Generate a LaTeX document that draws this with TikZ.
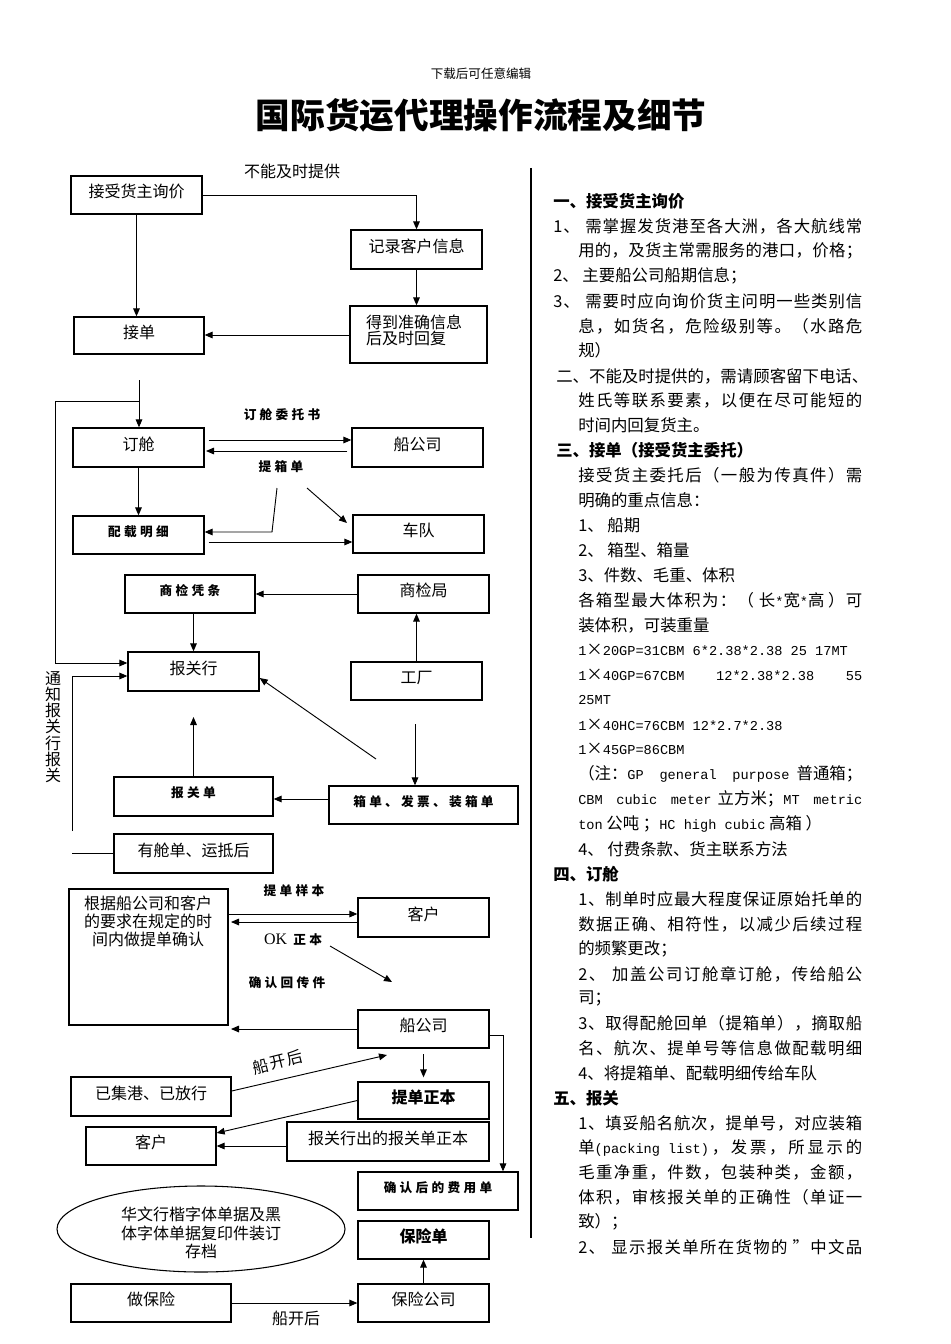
\documentclass[tikz,border=0pt]{standalone}
\usepackage{fontspec}
\setmainfont{Noto Sans CJK SC}
\newfontfamily\monof[Scale=0.83]{Liberation Mono}
\newfontfamily\serf{Liberation Serif}
\usetikzlibrary{shapes.geometric,arrows.meta}
\newcommand\mm[1]{{\monof #1}}
\makeatletter
\def\sp@end{\sp@end}
\newcommand\spreadtext[1]{\sp@loop#1\sp@end}
\def\sp@loop#1{\ifx#1\sp@end\else#1\hskip 0pt plus 1fil\relax\expandafter\sp@loop\fi}
\makeatother
\newcommand\gap{\hskip 0pt plus 1fil\relax}
\tikzset{
 box/.style={draw, line width=1pt, inner sep=0pt},
 arr/.style={line width=0.7pt, -{Triangle[length=6pt,width=5pt]}},
 ln/.style={line width=0.7pt},
 txt/.style={font=\fontsize{12}{14}\selectfont, inner sep=0pt},
 cal/.style={font=\fontsize{9.5}{11}\selectfont\bfseries\addfontfeature{LetterSpace=26}, inner sep=0pt},
 bld/.style={font=\fontsize{12}{14}\selectfont\bfseries, inner sep=0pt},
 rt/.style={font=\fontsize{12.3}{14}\selectfont, inner sep=0pt, anchor=west},
 rb/.style={font=\fontsize{12.3}{14}\selectfont\bfseries, inner sep=0pt, anchor=west},
}
\newcommand\bx[7][txt]{%
 \node[box,minimum width={(#5-#3)*0.75pt},minimum height={(#6-#4)*0.75pt}] (#2) at ({(#3+#5)/2},{(#4+#6)/2}) {};
 \node[#1] (#2-t) at ([yshift=2.5pt]#2.center) {#7};}
\newcommand\rl[4][rt]{\node[#1] (#2) at (#3) {#4};}
% justified line, spread between every character
\newcommand\rj[4][213pt]{\node[rt] (#2) at (#3) {\makebox[#1][s]{\spreadtext{#4}\unskip}};}
% justified line, content given with its own glue
\newcommand\rjx[4][213pt]{\node[rt] (#2) at (#3) {\makebox[#1][s]{#4}};}
\begin{document}
\begin{tikzpicture}[x=0.75pt,y=-0.75pt]
\fill[white] (0,0) rectangle (950,1344);
\useasboundingbox (0,0) rectangle (950,1344);

% header
\node[inner sep=0, font=\fontsize{9.4}{11}\selectfont] (hd) at (481,74) {下载后可任意编辑};
\node[inner sep=0, font=\fontsize{26}{30}\selectfont\bfseries] (title) at (481,115) {国际货运代理操作流程及细节};
\draw[line width=0.8pt] (531,168) coordinate (dv1) -- (531,1238) coordinate (dv2);

% ---------- flow chart ----------
\bx{ask}{71}{176}{202}{214}{接受货主询价}
\bx{rec}{351}{230}{482}{269}{记录客户信息}
\bx{jd}{74}{317}{204}{354}{接单}
\node[box,minimum width={137*0.75pt},minimum height={57*0.75pt}] (get) at (418.5,334.5) {};
\node[txt,align=left,font=\fontsize{12}{12.2}\selectfont] (get-t) at (414,330) {得到准确信息\\后及时回复};
\node[txt] (lb1) at (292,171) {不能及时提供};
\draw[arr] (ask.east) -| (rec.north);
\draw[arr] (ask.south) -- (ask.south |- jd.north);
\draw[arr] (rec.south) -- (rec.south |- get.north);
\draw[arr] (get.west |- 0,335) -- (jd.east |- 0,335);

% booking
\bx{dc}{73}{428}{204}{467}{订舱}
\bx{sc1}{352}{428}{483}{467}{船公司}
\bx[cal]{pz}{73}{516}{204}{554}{配载明细}
\bx{cd}{353}{515}{484}{553}{车队}
\node[cal] (lb2) at (282,415) {订舱委托书};
\node[cal] (lb3) at (281,467) {提箱单};
\coordinate (c1) at (139,380);
\coordinate (c2) at (139,401);
\coordinate (L1) at (55,401);
\draw[arr] (c1) -- (c1 |- dc.north);
\draw[ln] (c2) -- (L1);
\draw[arr,shorten <=3pt] (dc.east |- 0,440) -- (sc1.west |- 0,440);
\draw[arr,shorten <=3pt,shorten >=1pt] (sc1.west |- 0,451) -- (dc.east |- 0,451);
\draw[arr] (dc.south) -- (pz.north);
\coordinate (t1) at (277,488);
\draw[arr] (t1) -- (272,532) -- (pz.east |- 0,532);
\coordinate (t2) at (307,488);
\draw[arr] (t2) -- (347,523);
\draw[arr,shorten <=3pt] (pz.east |- 0,542) -- (cd.west |- 0,542);

% inspection / customs
\bx[cal]{sjpt}{125}{575}{255}{613}{商检凭条}
\bx{sjj}{358}{575}{489}{613}{商检局}
\bx{bgh}{128}{652}{259}{691}{报关行}
\bx{gc}{351}{662}{482}{700}{工厂}
\bx[cal]{bgd}{114}{777}{273}{816}{报关单}
\bx[cal]{xd}{329}{786}{518}{824}{箱单、发票、装箱单}
\bx{ycd}{114}{834}{273}{873}{有舱单、运抵后}
\draw[arr] (sjj.west) -- (sjj.west -| sjpt.east);
\draw[arr] (bgh.north |- sjpt.south) -- (bgh.north);
\draw[arr] (gc.north) -- (gc.north |- sjj.south);
\draw[arr] (L1) -- (55,663) -- (bgh.west |- 0,663);
\coordinate (t3) at (376,759);
\draw[arr] (t3) -- (bgh.east |- 0,678);
\coordinate (t4) at (415,724);
\draw[arr] (t4) -- (t4 |- xd.north);
\draw[arr] (xd.west |- 0,799) -- (bgd.east |- 0,799);
\coordinate (t5) at (193.5,717);
\draw[arr] (bgd.north) -- (t5);
\coordinate (t6) at (72,853.5);
\draw[ln] (ycd.west) -- (t6);
\coordinate (t7) at (72,831);
\draw[arr] (t7) -- (72,676) -- (bgh.west |- 0,676);
\node[txt,align=center,font=\fontsize{12}{12.2}\selectfont] (tz) at (53,727) {通\\知\\报\\关\\行\\报\\关};

% bill of lading
\node[box,minimum width={159*0.75pt},minimum height={136*0.75pt}] (qr) at (148.5,957) {};
\node[txt,align=center,font=\fontsize{12}{13.5}\selectfont] (qr-t) at (148,921) {根据船公司和客户\\的要求在规定的时\\间内做提单确认};
\bx{kh1}{358}{898}{489}{937}{客户}
\bx{sc2}{358}{1010}{489}{1048}{船公司}
\bx[bld]{tdz}{358}{1082}{489}{1119}{提单正本}
\bx{yjg}{71}{1077}{231}{1116}{已集港、已放行}
\node[cal] (lb4) at (294,891) {提单样本};
\node[cal] (lb5) at (293,940) {{\fontsize{12}{14}\selectfont\serf\mdseries OK} 正本};
\node[cal] (lb6) at (287,983) {确认回传件};
\draw[arr] (qr.east |- 0,914) -- (kh1.west |- 0,914);
\draw[arr] (kh1.west |- 0,922) -- (231,922);
\coordinate (t8) at (330,946);
\draw[arr] (t8) -- (392,982);
\coordinate (t9) at (231,1029);
\draw[arr] (sc2.west) -- (t9);
\draw[arr,shorten <=4pt,shorten >=3pt] (sc2.south) -- (tdz.north);
\coordinate (t10) at (387,1055);
\draw[arr] (yjg.east |- 0,1091) -- (t10);
\node[txt,rotate=14,font=\fontsize{12}{14}\selectfont\addfontfeature{LetterSpace=8}] (lb7) at (278,1062) {船开后};

% final documents
\bx{kh2}{86}{1127}{216}{1165}{客户}
\bx{bgzb}{287}{1122}{489}{1161}{报关行出的报关单正本}
\bx[cal]{fy}{358}{1172}{518}{1210}{确认后的费用单}
\bx[bld]{bxd}{358}{1221}{489}{1259}{保险单}
\bx{zbx}{71}{1284}{231}{1322}{做保险}
\bx{bxgs}{358}{1284}{489}{1322}{保险公司}
\draw[arr] (sc2.east |- 0,1035) -- (503,1035) -- (503,1035 |- fy.north);
\draw[arr] (tdz.west) -- (kh2.east |- 0,1133);
\draw[arr] (bgzb.west |- kh2.east) -- (kh2.east);
\draw[arr] (zbx.east |- 0,1303) -- (bxgs.west |- 0,1303);
\draw[arr] (bxgs.north) -- (bxd.south);
\node[txt] (lb8) at (296,1318) {船开后};
\node[draw,ellipse,line width=0.8pt,minimum width={288*0.75pt},minimum height={86*0.75pt},inner sep=0] (el) at (201,1229) {};
\node[txt,align=center,font=\fontsize{12}{13.9}\selectfont] (el-t) at (201,1233) {华文行楷字体单据及黑\\体字体单据复印件装订\\存档};

% ---------- right column ----------
\rl[rb]{r1}{553,201}{一、接受货主询价}
\rj[231.75pt]{r2}{553,226}{1、~需掌握发货港至各大洲，各大航线常}
\rj{r3}{578,251}{用的，及货主常需服务的港口，价格；}
\rl{r4}{553,276}{2、 主要船公司船期信息；}
\rj[231.75pt]{r5}{553,301}{3、~需要时应向询价货主问明一些类别信}
\rj{r6}{578,326}{息，如货名，危险级别等。（水路危}
\rl{r7}{578,350}{规）}
\rj[234pt]{r8}{556,376}{二、不能及时提供的，需请顾客留下电话、}
\rj{r9}{578,400}{姓氏等联系要素，以便在尽可能短的}
\rl{r10}{578,425}{时间内回复货主。}
\rl[rb]{r11}{556,450}{三、接单（接受货主委托）}
\rj{r12}{578,475}{接受货主委托后（一般为传真件）需}
\rl{r13}{578,500}{明确的重点信息：}
\rl{r14}{578,525}{1、 船期}
\rl{r15}{578,550}{2、 箱型、箱量}
\rl{r16}{578,575}{3、件数、毛重、体积}
\rjx{r17}{578,600}{\spreadtext{各箱型最大体积为：（}~长\mm{*}宽\mm{*}高~）\gap 可}
\rl{r18}{578,625}{装体积，可装重量}
\rl{r19}{578,650}{\mm{1}×\mm{20GP=31CBM 6*2.38*2.38 25 17MT}}
\rjx{r20}{578,675}{\mm{1}×\mm{40GP=67CBM\ \ \ \ 12*2.38*2.38\ \ \ \ 55}}
\rl{r21}{578,700}{\mm{25MT}}
\rl{r22}{578,725}{\mm{1}×\mm{40HC=76CBM 12*2.7*2.38}}
\rl{r23}{578,749}{\mm{1}×\mm{45GP=86CBM}}
\rjx{r24}{578,774}{（注：\mm{GP general purpose} 普通箱；}
\rjx{r25}{578,799}{\mm{CBM cubic meter} 立方米；\mm{MT metric}}
\rl{r26}{578,824}{\mm{ton} 公吨 ；\mm{HC high cubic} 高箱 ）}
\rl{r27}{578,849}{4、 付费条款、货主联系方法}
\rl[rb]{r28}{553,874}{四、订舱}
\rj{r29}{578,899}{1、制单时应最大程度保证原始托单的}
\rj{r30}{578,924}{数据正确、相符性，以减少后续过程}
\rl{r31}{578,949}{的频繁更改；}
\rj{r32}{578,974}{2、~加盖公司订舱章订舱，传给船公}
\rl{r33}{578,998}{司；}
\rj{r34}{578,1023}{3、取得配舱回单（提箱单），摘取船}
\rj{r35}{578,1048}{名、航次、提单号等信息做配载明细}
\rl{r36}{578,1073}{4、将提箱单、配载明细传给车队}
\rl[rb]{r37}{553,1098}{五、报关}
\rj{r38}{578,1123}{1、填妥船名航次，提单号，对应装箱}
\rjx{r39}{578,1148}{单\mm{(packing list)}\gap\spreadtext{，发票，所显示的}\unskip}
\rj{r40}{578,1172}{毛重净重，件数，包装种类，金额，}
\rj{r41}{578,1197}{体积，审核报关单的正确性（单证一}
\rl{r42}{578,1222}{致）；}
\rjx{r43}{578,1247}{\spreadtext{2、~显示报关单所在货物的}~”\gap 中\gap 文\gap 品}
\end{tikzpicture}
\end{document}
